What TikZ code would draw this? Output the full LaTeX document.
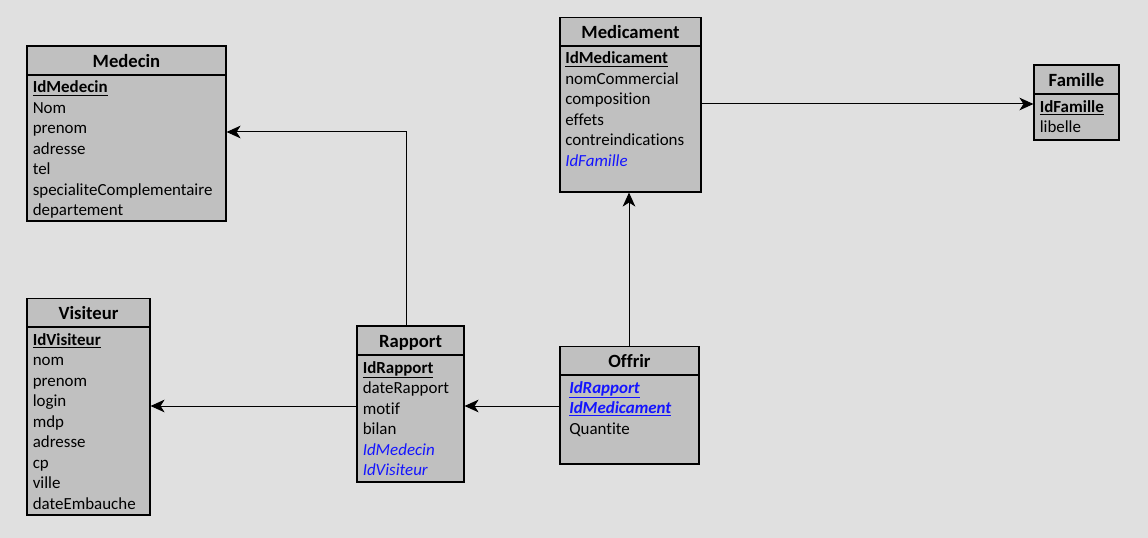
\documentclass[tikz,border=0pt]{standalone}
\usepackage{fontspec}
\setmainfont[Ligatures={NoCommon}]{Carlito}
\usetikzlibrary{arrows.meta}
\definecolor{bg}{HTML}{E0E0E0}
\definecolor{tb}{HTML}{C0C0C0}
\definecolor{fk}{HTML}{1414FF}
\def\pxu{0.75pt}
\tikzset{
  box/.style={draw=black, fill=tb, line width=0.85pt, inner sep=0pt},
  sepline/.style={draw=black, line width=0.8pt},
  ttl/.style={anchor=base, inner sep=0pt, font=\fontsize{14}{16}\selectfont\bfseries},
  attr/.style={anchor=base west, inner sep=0pt, yshift=-0.75pt, font=\fontsize{12.7}{14}\selectfont},
  pk/.style={attr, font=\fontsize{12.7}{14}\selectfont\bfseries},
  fkey/.style={attr, text=fk, font=\fontsize{12.7}{14}\selectfont\itshape},
  pfk/.style={attr, text=fk, font=\fontsize{12.7}{14}\selectfont\bfseries\itshape},
  conn/.style={draw=black, line width=0.75pt, -{Stealth[length=10.5pt, width=9.5pt, inset=3pt]}}
}
\newcommand\tbl[7]{%
  \node[box, minimum width={(#4-#2)*\pxu}, minimum height={(#5-#3)*\pxu}] (#1) at ({(#2+#4)/2},{(#3+#5)/2}) {};
  \draw[sepline] (#2,#6) -- (#4,#6);
  \node[ttl] (#1-t) at ({(#2+#4)/2},#6-7.5) {#7};
}
\begin{document}
\begin{tikzpicture}[x=0.75pt,y=-0.75pt]
\fill[bg] (0,0) rectangle (1148,538);
\useasboundingbox (0,0) rectangle (1148,538);

% Medecin
\tbl{medecin}{27}{46}{226}{221}{75}{Medecin}
\node[pk]   (me1) at (32.5,92)    {\underline{IdMedecin}};
\node[attr] (me2) at (32.5,112.5) {Nom};
\node[attr] (me3) at (32.5,133)   {prenom};
\node[attr] (me4) at (32.5,153.5) {adresse};
\node[attr] (me5) at (32.5,174)   {tel};
\node[attr] (me6) at (32.5,194.5) {specialiteComplementaire};
\node[attr] (me7) at (32.5,215)   {departement};

% Visiteur
\tbl{visiteur}{27}{298.5}{150}{515}{327}{Visiteur}
\node[pk]   (vi1) at (32.5,344)   {\underline{IdVisiteur}};
\node[attr] (vi2) at (32.5,364.5) {nom};
\node[attr] (vi3) at (32.5,385)   {prenom};
\node[attr] (vi4) at (32.5,405.5) {login};
\node[attr] (vi5) at (32.5,426)   {mdp};
\node[attr] (vi6) at (32.5,446.5) {adresse};
\node[attr] (vi7) at (32.5,467)   {cp};
\node[attr] (vi8) at (32.5,487.5) {ville};
\node[attr] (vi9) at (32.5,508)   {dateEmbauche};

% Rapport
\tbl{rapport}{357}{326}{464}{482}{355}{Rapport}
\node[pk]   (ra1) at (362.5,372)   {\underline{IdRapport}};
\node[attr] (ra2) at (362.5,392.5) {dateRapport};
\node[attr] (ra3) at (362.5,413)   {motif};
\node[attr] (ra4) at (362.5,433.5) {bilan};
\node[fkey] (ra5) at (362.5,454)   {IdMedecin};
\node[fkey] (ra6) at (362.5,474.5) {IdVisiteur};

% Offrir
\tbl{offrir}{560}{346.5}{699}{464}{375}{Offrir}
\node[pfk]  (of1) at (569,392)   {\underline{IdRapport}};
\node[pfk]  (of2) at (569,412.5) {\underline{IdMedicament}};
\node[attr] (of3) at (569,433)   {Quantite};

% Medicament
\tbl{medicament}{560}{17.5}{701}{192}{46}{Medicament}
\node[pk]   (md1) at (565,63)    {\underline{IdMedicament}};
\node[attr] (md2) at (565,83.5)  {nomCommercial};
\node[attr] (md3) at (565,104)   {composition};
\node[attr] (md4) at (565,124.5) {effets};
\node[attr] (md5) at (565,145)   {contreindications};
\node[fkey] (md6) at (565,165.5) {IdFamille};

% Famille
\tbl{famille}{1034}{65}{1119}{140}{94}{Famille}
\node[pk]   (fa1) at (1039.5,111.5) {\underline{IdFamille}};
\node[attr] (fa2) at (1039.5,132)   {libelle};

% connectors
\coordinate (c1) at (406,132);
\coordinate (hr) at (0,406);
\coordinate (vm) at (629,0);
\coordinate (hf) at (0,104);
\draw[conn] (rapport.north -| c1) -- (c1) -- (c1 -| medecin.east);
\draw[conn] (rapport.west |- hr) -- (visiteur.east |- hr);
\draw[conn] (offrir.west |- hr) -- (rapport.east |- hr);
\draw[conn] (offrir.north -| vm) -- (medicament.south -| vm);
\draw[conn] (medicament.east |- hf) -- (famille.west |- hf);
\end{tikzpicture}
\end{document}
